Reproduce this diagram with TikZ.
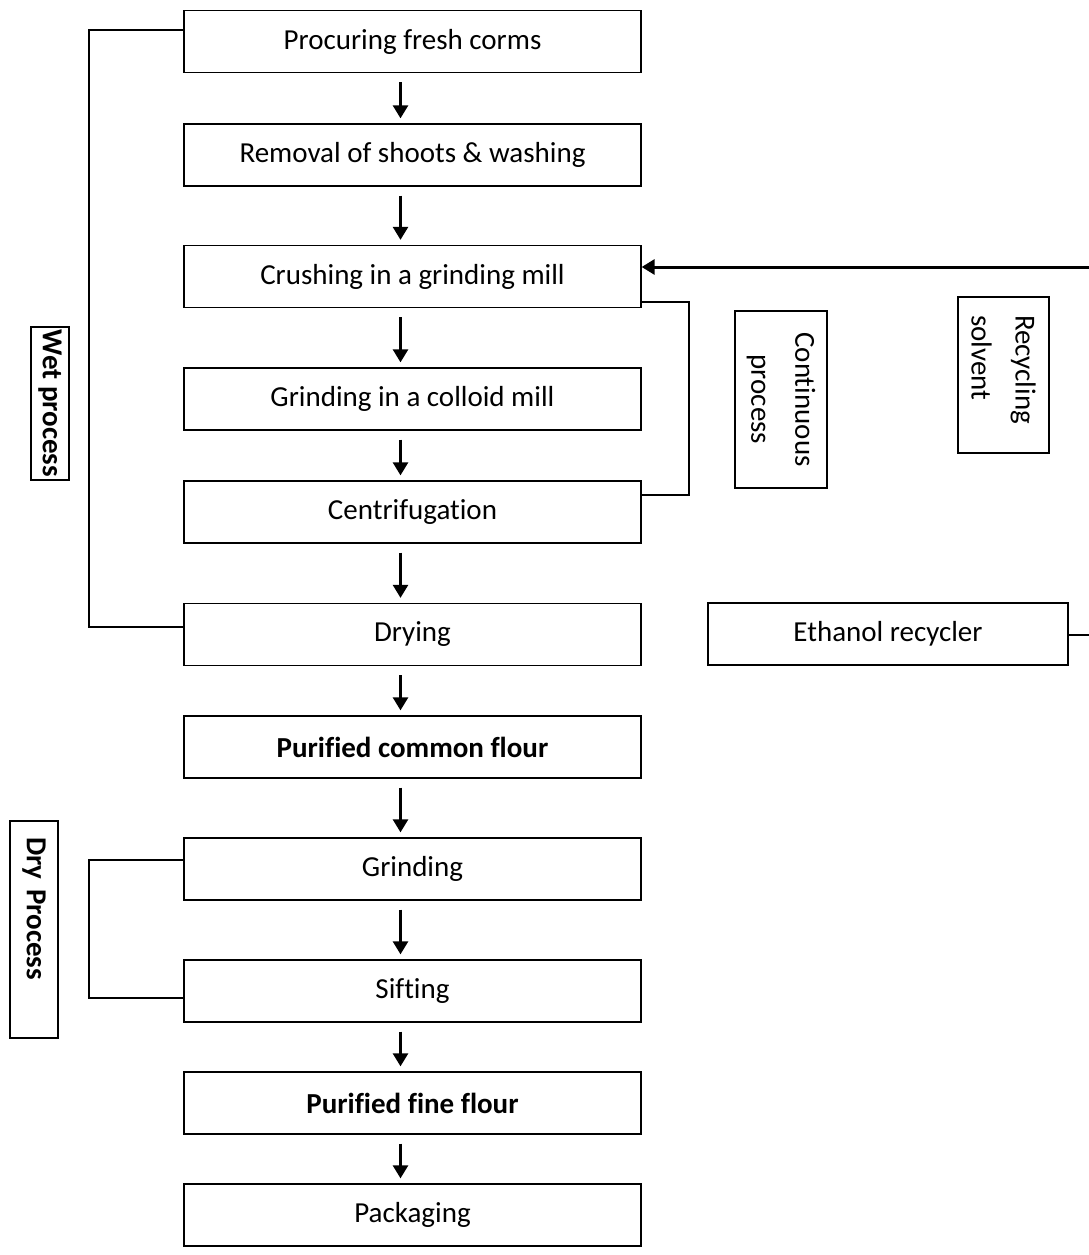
\documentclass[tikz,border=0pt]{standalone}
\usepackage{fontspec}
\setmainfont{Carlito}[RawFeature=-liga]
\usetikzlibrary{arrows.meta}
\begin{document}
\begin{tikzpicture}[x=1pt,y=-1pt,
  box/.style={draw,line width=1.3pt,minimum width=457pt,minimum height=62pt,inner sep=0pt,
    font=\fontsize{29}{34}\selectfont},
  bbox/.style={box,font=\fontsize{29}{34}\selectfont\bfseries},
  arr/.style={line width=2.6pt,-{Triangle[length=13pt,width=15pt]}},
  link/.style={line width=1.3pt},
  lbl/.style={draw,line width=2pt,rotate=-90,inner sep=0pt,font=\fontsize{29}{34}\selectfont\bfseries},
  side/.style={draw,line width=1.3pt,rotate=-90,inner sep=0pt,font=\fontsize{29}{44}\selectfont}
]
\useasboundingbox (0,0) rectangle (1089,1255);
\node[box]  (n1)  at (412.5,41.5) {Procuring fresh corms};
\node[box]  (n2)  at (412.5,155)  {Removal of shoots \& washing};
\node[box]  (n3)  at (412.5,276.5){Crushing in a grinding mill};
\node[box]  (n4)  at (412.5,399)  {Grinding in a colloid mill};
\node[box]  (n5)  at (412.5,512)  {Centrifugation};
\node[box]  (n6)  at (412.5,634.5){Drying};
\node[bbox] (n7)  at (412.5,747)  {Purified common flour};
\node[box]  (n8)  at (412.5,869)  {Grinding};
\node[box]  (n9)  at (412.5,991)  {Sifting};
\node[bbox] (n10) at (412.5,1103) {Purified fine flour};
\node[box]  (n11) at (412.5,1215) {Packaging};

\foreach \a/\b in {n1/n2,n2/n3,n3/n4,n4/n5,n5/n6,n6/n7,n7/n8,n8/n9,n9/n10,n10/n11}
  \draw[arr] ([xshift=-12pt,yshift=-9pt]\a.south) -- ([xshift=-12pt,yshift=5pt]\b.north);

% wet process bracket
\coordinate (w1) at (89,30);
\coordinate (w2) at (89,627);
\draw[link] (n1.west |- w1) -- (w1) -- (w2) -- (n6.west |- w2);
\node[lbl,minimum width=153pt,minimum height=38pt] (wet) at (50,403.5) {Wet process};

% dry process bracket
\coordinate (d1) at (89,860);
\coordinate (d2) at (89,998);
\draw[link] (n8.west |- d1) -- (d1) -- (d2) -- (n9.west |- d2);
\node[lbl,text width=185pt,inner xsep=16pt,align=left,minimum height=48pt] (dry) at (34,929.5) {Dry Process};

% continuous process bracket
\coordinate (c1) at (689,302);
\coordinate (c2) at (689,495);
\draw[link] (n3.east |- c1) -- (c1) -- (c2) -- (n5.east |- c2);
\node[side,align=center,minimum width=177pt,minimum height=92pt] (cont) at (781,399.5) {Continuous\\process};

% recycling
\node[side,align=left,text width=120pt,inner xsep=18pt,minimum height=91pt] (rec) at (1003.5,375) {Recycling\\solvent};
\node[draw,line width=1.3pt,minimum width=360pt,minimum height=62pt,inner sep=0pt,
  font=\fontsize{29}{34}\selectfont] (eth) at (888,634) {Ethanol recycler};
\coordinate (e1) at (1089,635);
\draw[link] (eth.east |- e1) -- (e1);
\coordinate (r1) at (1089,267);
\draw[arr,line width=3pt] (r1) -- (n3.east |- r1);
\end{tikzpicture}
\end{document}
